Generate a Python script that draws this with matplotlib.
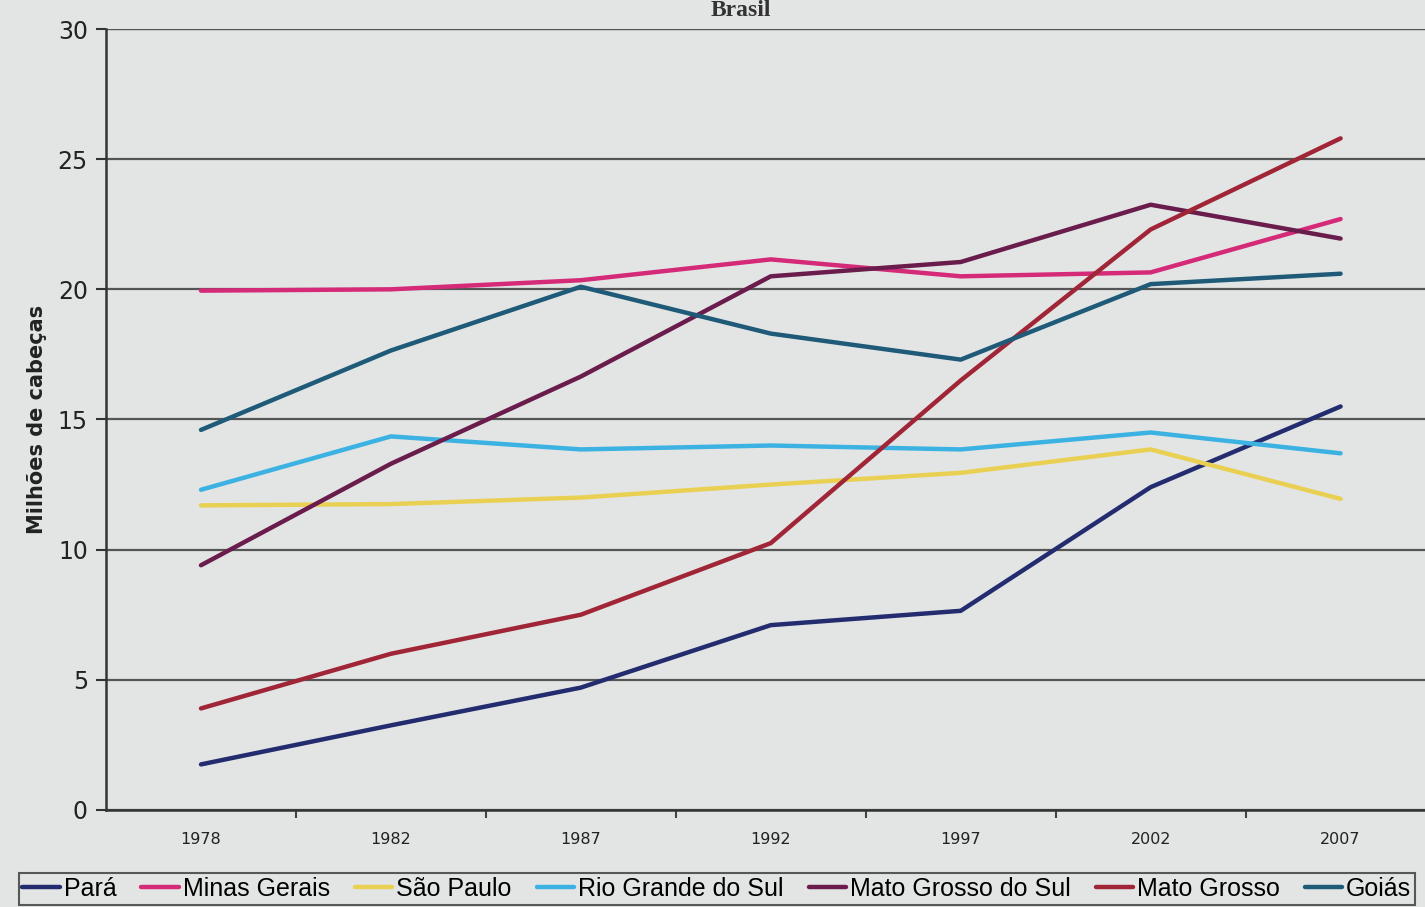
import matplotlib
matplotlib.use("Agg")
import matplotlib.pyplot as plt
from matplotlib import font_manager

years = ["1978", "1982", "1987", "1992", "1997", "2002", "2007"]

para = [1.75, 3.25, 4.7, 7.1, 7.65, 12.4, 15.5]
minas_gerais = [19.95, 20.0, 20.35, 21.15, 20.5, 20.65, 22.7]
sao_paulo = [11.7, 11.75, 12.0, 12.5, 12.95, 13.85, 11.95]
rio_grande_do_sul = [12.3, 14.35, 13.85, 14.0, 13.85, 14.5, 13.7]
mato_grosso_do_sul = [9.4, 13.3, 16.65, 20.5, 21.05, 23.25, 21.95]
mato_grosso = [3.9, 6.0, 7.5, 10.25, 16.5, 22.3, 25.8]
goias = [14.6, 17.65, 20.1, 18.3, 17.3, 20.2, 20.6]

series_names = ["Pará", "Minas Gerais", "São Paulo", "Rio Grande do Sul",
                "Mato Grosso do Sul", "Mato Grosso", "Goiás"]
series_values = [para, minas_gerais, sao_paulo, rio_grande_do_sul,
                 mato_grosso_do_sul, mato_grosso, goias]
series_colors = ["#232c6e", "#d42a78", "#e9d052", "#3cb2e2",
                 "#6a1d4c", "#a02536", "#1f5b78"]

installed = {f.name for f in font_manager.fontManager.ttflist}
narrow = "Liberation Sans Narrow" if "Liberation Sans Narrow" in installed else "Liberation Sans"

bg = "#e3e5e5"
fig = plt.figure(figsize=(14.25, 9.07), dpi=100, facecolor=bg)
ax = fig.add_axes([0.0744, 0.107, 0.933, 0.861], facecolor=bg)

x = list(range(len(years)))
for name, vals, col in zip(series_names, series_values, series_colors):
    ax.plot(x, vals, color=col, lw=3.2, label=name, solid_capstyle="round",
            solid_joinstyle="round", zorder=3)

ax.set_xlim(-0.5, len(years) - 0.5)
ax.set_ylim(0, 30)
ax.set_yticks(range(0, 31, 5))
ax.yaxis.grid(True, color="#555555", lw=1.6, zorder=1)
ax.tick_params(axis="y", labelsize=17, length=7, width=1.5, color="#333333",
               labelcolor="#222222", pad=6)

# category boundaries carry the tick marks, labels sit in the middle
ax.set_xticks([i + 0.5 for i in range(len(years) - 1)])
ax.set_xticklabels([])
ax.set_xticks(x, minor=True)
ax.set_xticklabels(years, minor=True, fontsize=11.5, color="#222222")
ax.tick_params(axis="x", which="major", length=6, width=1.5, color="#444444")
ax.tick_params(axis="x", which="minor", length=0, pad=16)

for side in ["top", "right"]:
    ax.spines[side].set_visible(False)
ax.spines["left"].set_color("#333333")
ax.spines["left"].set_linewidth(1.8)
ax.spines["bottom"].set_color("#333333")
ax.spines["bottom"].set_linewidth(1.8)
ax.axhline(30, color="#555555", lw=1.6, zorder=1)

ax.set_ylabel("Milhões de cabeças", fontsize=15, fontweight="bold",
              color="#222222", labelpad=8)

fig.text(0.52, 0.9995, "Brasil", ha="center", va="top", fontsize=17,
         fontweight="bold", family="Liberation Serif", color="#333333")

leg = fig.legend(loc="upper left", bbox_to_anchor=(0.013, 0.037, 0.98, 0.0),
                 mode="expand", ncol=7, frameon=True, fancybox=False,
                 borderaxespad=0.0, edgecolor="#333333", facecolor=bg,
                 handlelength=1.5, handletextpad=0.15, columnspacing=0.6,
                 borderpad=0.15, prop={"family": narrow, "size": 18})
leg.get_frame().set_linewidth(1.5)
for line in leg.get_lines():
    line.set_linewidth(3.2)

fig.savefig("out.png", dpi=100, facecolor=bg)
